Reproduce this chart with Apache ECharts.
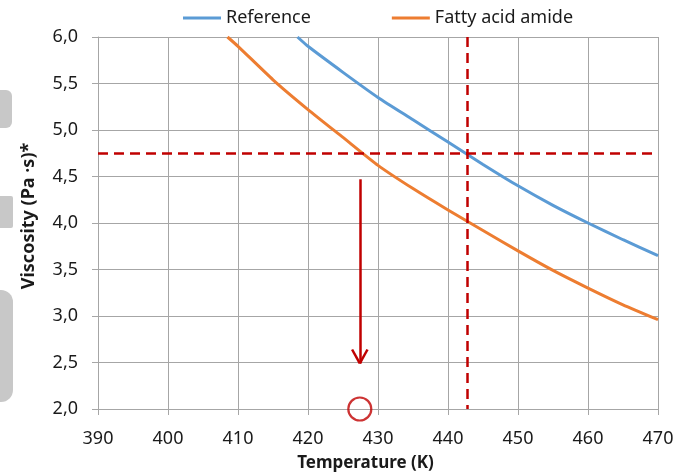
<!DOCTYPE html>
<html>
<head>
<meta charset="utf-8">
<script src="https://cdn.jsdelivr.net/npm/echarts@6/dist/echarts.min.js"></script>
<style>html,body{margin:0;padding:0;background:#fff}#c{width:678px;height:475px}</style>
</head>
<body>
<div id="c"></div>
<script>
// Data
const seriesNames = ['Reference', 'Fatty acid amide'];
const referenceData = [[418.5,6.0],[420,5.90],[425,5.62],[430,5.35],[435,5.11],[440,4.87],[445,4.63],[450,4.40],[455,4.19],[460,4.00],[465,3.82],[470,3.65]];
const amideData = [[408.5,6.0],[410,5.90],[415,5.54],[420,5.22],[425,4.92],[430,4.62],[435,4.37],[440,4.14],[445,3.92],[450,3.70],[455,3.49],[460,3.30],[465,3.12],[470,2.96]];
const xTicks = [390,400,410,420,430,440,450,460,470];
const yTicks = [2.0,2.5,3.0,3.5,4.0,4.5,5.0,5.5,6.0];
const targetViscosity = 4.75;
const referenceTemp = 442.7;
const amideTemp = 427.4;
const arrowFrom = 4.47;
const arrowTo = 2.49;

const red = '#c00000';
const font = 'Noto Sans';
const chart = echarts.init(document.getElementById('c'));
chart.setOption({
  animation: false,
  textStyle: {fontFamily: font},
  legend: {
    data: seriesNames,
    left: 178, top: 4,
    itemWidth: 38, itemHeight: 3, itemGap: 81,
    icon: 'rect',
    textStyle: {fontSize: 18, color: '#1a1a1a', fontFamily: font}
  },
  grid: {left: 98, right: 20, top: 37, bottom: 66, containLabel: false, outerBoundsMode: 'none'},
  xAxis: {
    type: 'value', min: xTicks[0], max: xTicks[xTicks.length-1], interval: 10,
    name: 'Temperature (K)', nameLocation: 'middle', nameGap: 46,
    nameTextStyle: {fontSize: 17, fontWeight: 'bold', color: '#1a1a1a', padding: [0,25,0,0]},
    axisLine: {show: true, lineStyle: {color: '#a6a6a6', width: 1}},
    axisTick: {show: true, length: 6, lineStyle: {color: '#a6a6a6'}},
    axisLabel: {fontSize: 18, color: '#1a1a1a', margin: 21},
    splitLine: {show: true, lineStyle: {color: '#a6a6a6', width: 1}}
  },
  yAxis: {
    type: 'value', min: yTicks[0], max: yTicks[yTicks.length-1], interval: 0.5,
    name: 'Viscosity (Pa ·s)*', nameLocation: 'middle', nameGap: 60, nameRotate: 90,
    nameTextStyle: {fontSize: 18, fontWeight: 'bold', color: '#1a1a1a', padding: [0,0,0,14]},
    axisLine: {show: true, lineStyle: {color: '#a6a6a6', width: 1}},
    axisTick: {show: true, length: 6, lineStyle: {color: '#a6a6a6'}},
    axisLabel: {fontSize: 18, color: '#1a1a1a', margin: 20, formatter: v => v.toFixed(1).replace('.', ',')},
    splitLine: {show: true, lineStyle: {color: '#a6a6a6', width: 1}}
  },
  graphic: [
    {type: 'rect', shape: {x: -8, y: 90, width: 20, height: 38, r: 6}, style: {fill: '#c8c8c8'}},
    {type: 'rect', shape: {x: -8, y: 196, width: 21, height: 32, r: 2}, style: {fill: '#c8c8c8'}},
    {type: 'rect', shape: {x: -12, y: 290, width: 25, height: 112, r: 12}, style: {fill: '#c8c8c8'}}
  ],
  series: [
    {
      name: seriesNames[0], type: 'line', data: referenceData, showSymbol: false, smooth: 0.2,
      color: '#5b9bd5', lineStyle: {width: 3, color: '#5b9bd5'}, z: 3
    },
    {
      name: seriesNames[1], type: 'line', data: amideData, showSymbol: false, smooth: 0.2,
      color: '#ed7d31', lineStyle: {width: 3, color: '#ed7d31'}, z: 3
    },
    {
      name: 'annotations', type: 'line', data: [], z: 5, silent: true,
      markLine: {
        silent: true, symbol: 'none', animation: false,
        label: {show: false},
        emphasis: {disabled: true},
        data: [
          [{coord: [xTicks[0], targetViscosity], lineStyle: {type: [10,6], width: 2.5, color: red}},
           {coord: [469.3, targetViscosity]}],
          [{coord: [referenceTemp, yTicks[yTicks.length-1]], lineStyle: {type: [10,6], width: 2.5, color: red}},
           {coord: [referenceTemp, yTicks[0]]}],
          [{coord: [amideTemp, arrowFrom], lineStyle: {type: 'solid', width: 2.5, color: red}},
           {coord: [amideTemp, arrowTo]}],
          [{coord: [amideTemp - 1.1, arrowTo + 0.15], lineStyle: {type: 'solid', width: 2.5, color: red}},
           {coord: [amideTemp, arrowTo]}],
          [{coord: [amideTemp + 1.1, arrowTo + 0.15], lineStyle: {type: 'solid', width: 2.5, color: red}},
           {coord: [amideTemp, arrowTo]}]
        ]
      }
    },
    {
      name: 'marker', type: 'scatter', data: [[amideTemp, yTicks[0]]], clip: false, silent: true, z: 6,
      symbol: 'circle', symbolSize: 23,
      itemStyle: {color: 'rgba(0,0,0,0)', borderColor: red, borderWidth: 2.2}
    }
  ]
});
</script>
</body>
</html>
